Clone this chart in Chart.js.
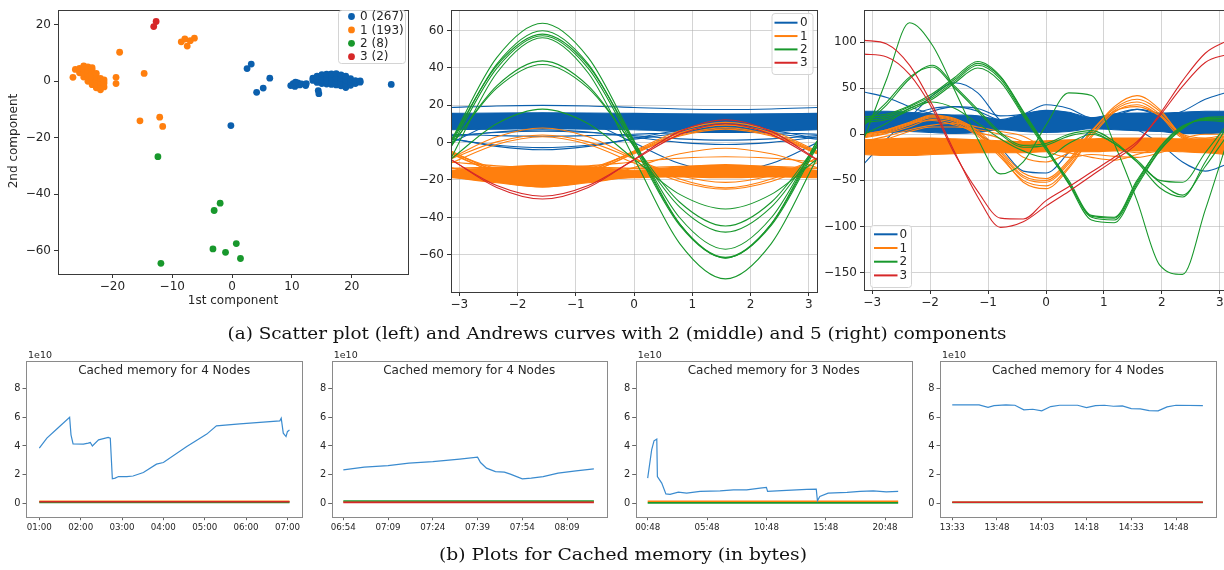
<!DOCTYPE html>
<html lang="en">
<head>
<meta charset="UTF-8" />
<title>Scatter, Andrews curves and cached memory</title>
<script src="https://cdn.jsdelivr.net/npm/chart.js"></script>
<style>
  body { margin: 0; width: 1224px; height: 570px; overflow: hidden; background: #fff; position: relative; }
  canvas { position: absolute; }
</style>
</head>
<body>
<canvas id="cap"></canvas>
<canvas id="scatter"></canvas>
<canvas id="andrews2"></canvas>
<canvas id="andrews5"></canvas>
<canvas id="mem1"></canvas>
<canvas id="mem2"></canvas>
<canvas id="mem3"></canvas>
<canvas id="mem4"></canvas>

<script>
// ---------- data ----------
const classNames = ['0', '1', '2', '3'];
const classCounts = [267, 193, 8, 2];

// scatter (1st component, 2nd component)
const scBlue = [[9.8,-1.5],[10.2,-0.8],[10.5,-1.8],[11.0,-0.6],[11.3,-1.3],[11.6,-0.9],[10.6,-0.3],[12.3,-1.5],[12.4,-0.8],
  [13.5,0.3],[13.5,1.1],[14.2,-0.4],[14.2,0.8],[14.2,1.8],[15.0,-0.8],[15.0,0.4],[15.0,1.5],[15.0,2.4],
  [15.8,-1.0],[15.8,0.2],[15.8,1.3],[15.8,2.5],[16.6,-1.1],[16.6,0.1],[16.6,1.3],[16.6,2.6],
  [17.4,-1.3],[17.4,0.0],[17.4,1.2],[17.4,2.7],[18.2,-1.6],[18.2,-0.3],[18.2,1.0],[18.2,2.3],
  [19.0,-2.2],[19.0,-1.0],[19.0,0.4],[19.0,1.8],[19.8,-1.4],[19.8,-0.3],[19.8,0.9],[20.6,-0.8],[20.6,0.2],
  [21.4,-0.3],[21.4,0.1],[14.4,-3.3],[14.5,-4.4],[26.6,-1.1],[2.5,4.5],[3.2,6.1],[6.3,1.1],[4.1,-3.9],[5.2,-2.4],[-0.2,-15.7]];
const scOrange = [[-26.2,4.2],[-25.5,3.0],[-25.5,4.6],[-24.8,1.5],[-24.8,2.8],[-24.8,4.2],[-24.8,5.5],
  [-24.1,0.0],[-24.1,1.3],[-24.1,2.6],[-24.1,3.9],[-24.1,5.1],[-23.4,-1.2],[-23.4,0.1],[-23.4,1.4],[-23.4,2.7],[-23.4,4.0],[-23.4,4.8],
  [-22.7,-2.3],[-22.7,-1.0],[-22.7,0.3],[-22.7,1.6],[-22.7,2.8],[-22.0,-3.0],[-22.0,-1.6],[-22.0,-0.3],[-22.0,1.0],
  [-21.4,-2.0],[-21.4,-0.6],[-21.4,0.5],[-26.6,1.4],[-19.4,1.4],[-19.4,-0.8],[-18.8,10.3],[-14.7,2.8],
  [-15.4,-14.0],[-12.1,-12.7],[-11.6,-16.0],[-8.5,14.0],[-7.9,15.0],[-7.5,12.5],[-7.0,14.4],[-6.3,15.3]];
const scGreen = [[-12.4,-26.7],[-3.0,-45.8],[-2.0,-43.2],[-3.2,-59.4],[-1.1,-60.6],[0.7,-57.5],[1.4,-62.8],[-11.9,-64.5]];
const scRed = [[-13.1,19.4],[-12.7,21.2]];

// Andrews curves, 2 components: values read at t = -pi .. pi, step pi/4
const t9 = [-3.1416, -2.3562, -1.5708, -0.7854, 0, 0.7854, 1.5708, 2.3562, 3.1416];
const a2BlueTop = [15.6, 15.8, 15.9, 15.8, 15.6, 15.4, 15.3, 15.4, 15.6];
const a2BlueBottom = [6.9, 7.1, 7.4, 7.2, 6.9, 6.0, 5.4, 6.0, 6.9];
const a2Blue = [
  [18.8, 19.6, 19.9, 19.6, 18.8, 18.0, 17.7, 18.0, 18.8],
  [1.8, -1.4, -2.7, -1.4, 1.8, 5.0, 6.3, 5.0, 1.8],
  [2.3, -2.0, -3.8, -2.0, 2.3, 6.6, 8.4, 6.6, 2.3],
  [4.5, 3.7, 3.4, 3.7, 4.5, 5.3, 5.6, 5.3, 4.5],
  [2.9, 5.7, 6.8, 5.7, 2.9, 0.1, -1.0, 0.1, 2.9],
  [3.7, 5.4, 6.1, 5.4, 3.7, 2.0, 1.3, 2.0, 3.7],
  [-0.1, 11.0, 15.6, 11.0, -0.1, -11.2, -15.8, -11.2, -0.1],
  [8.7, 9.8, 10.2, 9.8, 8.7, 7.6, 7.2, 7.6, 8.7]];
const a2OrangeTop = [-14.8, -13.3, -12.2, -12.8, -14.8, -13.0, -11.8, -13.0, -14.8];
const a2OrangeBottom = [-18.5, -21.5, -23.8, -21.5, -18.5, -18.4, -18.8, -18.4, -18.5];
const a2Orange = [
  [-18.8, -19.8, -20.2, -19.8, -18.8, -17.8, -17.4, -17.8, -18.8],
  [-13.7, -14.7, -15.1, -14.7, -13.7, -12.7, -12.3, -12.7, -13.7],
  [-13.7, -13.1, -12.9, -13.1, -13.7, -14.3, -14.5, -14.3, -13.7],
  [-13.3, -20.6, -23.6, -20.6, -13.3, -6.0, -3.0, -6.0, -13.3],
  [-10.4, -12.4, -13.2, -12.4, -10.4, -8.4, -7.6, -8.4, -10.4],
  [-10.9, -1.0, 3.1, -1.0, -10.9, -20.8, -24.9, -20.8, -10.9],
  [-8.6, 0.4, 4.1, 0.4, -8.6, -17.6, -21.3, -17.6, -8.6],
  [-8.2, 3.1, 7.8, 3.1, -8.2, -19.5, -24.2, -19.5, -8.2],
  [-6.0, -15.9, -20.0, -15.9, -6.0, 3.9, 8.0, 3.9, -6.0],
  [-5.6, -16.2, -20.6, -16.2, -5.6, 5.0, 9.4, 5.0, -5.6],
  [-5.3, -14.1, -17.8, -14.1, -5.3, 3.5, 7.2, 3.5, -5.3],
  [-4.9, -15.1, -19.3, -15.1, -4.9, 5.3, 9.5, 5.3, -4.9],
  [-4.5, -15.3, -19.8, -15.3, -4.5, 6.3, 10.8, 6.3, -4.5]];
const a2Green = [
  [-8.8, 10.1, 17.9, 10.1, -8.8, -27.7, -35.5, -27.7, -8.8],
  [-2.1, 30.3, 43.7, 30.3, -2.1, -34.5, -47.9, -34.5, -2.1],
  [-1.4, 29.1, 41.8, 29.1, -1.4, -31.9, -44.6, -31.9, -1.4],
  [-2.3, 39.7, 57.1, 39.7, -2.3, -44.3, -61.7, -44.3, -2.3],
  [-0.8, 42.0, 59.8, 42.0, -0.8, -43.6, -61.4, -43.6, -0.8],
  [0.5, 41.2, 58.0, 41.2, 0.5, -40.2, -57.0, -40.2, 0.5],
  [1.0, 45.4, 63.8, 45.4, 1.0, -43.4, -61.8, -43.4, 1.0],
  [-8.4, 37.2, 56.1, 37.2, -8.4, -54.0, -72.9, -54.0, -8.4]];
const a2Red = [
  [-9.3, -23.0, -28.7, -23.0, -9.3, 4.4, 10.1, 4.4, -9.3],
  [-9.0, -24.0, -30.2, -24.0, -9.0, 6.0, 12.2, 6.0, -9.0]];

// Andrews curves, 5 components: values read at t = -pi .. pi, step pi/8
const t17 = [-3.1416, -2.7489, -2.3562, -1.9635, -1.5708, -1.1781, -0.7854, -0.3927, 0,
  0.3927, 0.7854, 1.1781, 1.5708, 1.9635, 2.3562, 2.7489, 3.1416];
const a5BlueTop = [25, 25, 24, 22, 21, 20, 16, 22, 26, 24, 18, 22, 23, 23, 24, 25, 25];
const a5BlueBottom = [2, 2, 3, 2, 1, 2, 5, 3, 2, 3, 6, 5, 4, 3, 1, 1, 2];
const a5Blue = [
  [46, 40, 30, 22, 15, 10, 8, 10, 12, 12, 12, 14, 15, 18, 25, 38, 46],
  [-32, -5, 18, 42, 56, 45, 15, 5, 5, 8, 10, 10, 5, -10, -30, -40, -32],
  [10, 10, 12, 15, 10, 0, -15, -40, -42, -20, 5, 15, 18, 12, 5, 5, 10],
  [12, 12, 15, 25, 30, 28, 20, 22, 32, 28, 18, 20, 27, 20, 12, 10, 12],
  [5, 8, 20, 28, 30, 25, 15, 12, 20, 22, 15, 22, 27, 22, 10, 5, 5]];
const a5OrangeTop = [-6, -5, -4, -4, -5, -6, -7, -8, -7, -6, -5, -4, -4, -4, -5, -5, -6];
const a5OrangeBottom = [-22, -23, -23, -22, -21, -20, -20, -20, -19, -19, -19, -18, -18, -18, -19, -20, -22];
const a5Orange = [
  [-3, 2, 10, 18, 14, 0, -22, -47, -52, -32, 2, 30, 42, 27, -2, -8, -3],
  [-1, 4, 12, 20, 16, 2, -20, -45, -50, -30, 3, 28, 38, 25, -1, -6, -1],
  [-4, 1, 8, 16, 12, -2, -25, -50, -56, -35, -1, 26, 35, 22, -3, -9, -4],
  [-2, 3, 11, 19, 15, 1, -23, -52, -59, -37, -3, 24, 32, 20, -4, -7, -2],
  [0, 5, 13, 21, 17, 4, -18, -42, -48, -28, 4, 25, 30, 20, 0, -4, 0],
  [-10, -5, 3, 8, 8, 5, 0, -8, -18, -25, -22, -24, -25, -20, -12, -8, -10],
  [-8, -2, 5, 10, 12, 8, 3, -2, -15, -20, -25, -28, -22, -15, -8, -5, -8],
  [0, 5, 12, 15, 10, 2, -5, -25, -30, -20, -10, -15, -20, -18, -5, 0, 0]];
const a5Green = [
  [15, 18, 28, 40, 58, 75, 60, 22, -15, -50, -88, -90, -50, -15, 8, 16, 15],
  [17, 20, 30, 42, 60, 77, 62, 24, -14, -52, -90, -93, -54, -17, 7, 17, 17],
  [13, 16, 26, 38, 56, 72, 57, 20, -17, -53, -89, -91, -52, -14, 9, 15, 13],
  [19, 22, 31, 44, 62, 79, 63, 25, -13, -54, -93, -96, -56, -18, 6, 18, 19],
  [12, 35, 62, 73, 50, 25, 0, -14, -12, -2, 2, -10, -28, -50, -52, -20, 12],
  [10, 32, 60, 75, 52, 27, 2, -12, -10, 0, 4, -8, -30, -58, -68, -30, 10],
  [0, 12, 28, 35, 28, 12, -5, -18, -25, -10, 0, -10, -30, -52, -66, -35, 0],
  [-5, 60, 121, 97, 47, -5, -43, -30, 10, 45, 42, -10, -72, -142, -152, -82, -5]];
const a5Red = [
  [102, 98, 75, 32, -20, -68, -101, -95, -78, -62, -45, -28, -10, 22, 58, 88, 102],
  [87, 84, 65, 28, -22, -62, -91, -92, -72, -57, -41, -25, -8, 20, 52, 78, 87]];

// cached memory (1e10 bytes); x = minutes after the first tick
const memTitles = ['Cached memory for 4 Nodes', 'Cached memory for 4 Nodes', 'Cached memory for 3 Nodes', 'Cached memory for 4 Nodes'];
const mem1Min = [0, 11, 25, 44, 46, 49, 64, 71, 74, 77, 86, 100, 103, 106, 110, 115, 127, 136, 151, 170, 180, 214, 243, 257, 291, 349, 351, 354, 358, 360, 363];
const mem1Val = [3.85, 4.55, 5.17, 6.01, 4.78, 4.15, 4.13, 4.20, 4.24, 4.00, 4.43, 4.60, 4.55, 1.70, 1.75, 1.86, 1.86, 1.90, 2.14, 2.73, 2.84, 3.96, 4.83, 5.41, 5.55, 5.76, 5.94, 4.90, 4.66, 5.00, 5.13];
const mem1Flat = [0.12, 0.05, 0.10];
const mem1Ticks = ['01:00', '02:00', '03:00', '04:00', '05:00', '06:00', '07:00'];
const mem1TickMin = [0, 60, 120, 180, 240, 300, 360];

const mem2Min = [0, 7, 15, 22, 30, 39, 45, 46, 48, 51, 54, 56, 60, 63, 67, 72, 78, 84];
const mem2Val = [2.33, 2.52, 2.63, 2.80, 2.91, 3.08, 3.22, 2.84, 2.45, 2.21, 2.17, 2.03, 1.70, 1.75, 1.86, 2.10, 2.26, 2.40];
const mem2Flat = [0.08, 0.15, 0.05];
const mem2Ticks = ['06:54', '07:09', '07:24', '07:39', '07:54', '08:09'];
const mem2TickMin = [0, 15, 30, 45, 60, 75];

const mem3Min = [0, 20, 32, 46, 49, 71, 92, 113, 155, 197, 265, 366, 433, 500, 568, 600, 606, 702, 804, 852, 858, 870, 912, 1008, 1074, 1140, 1206, 1266];
const mem3Val = [1.75, 3.73, 4.36, 4.48, 1.86, 1.40, 0.65, 0.61, 0.77, 0.70, 0.82, 0.86, 0.93, 0.93, 1.05, 1.10, 0.82, 0.89, 0.96, 0.98, 0.16, 0.47, 0.70, 0.75, 0.82, 0.86, 0.79, 0.82];
const mem3Flat = [0.12, 0.02];
const mem3Ticks = ['00:48', '05:48', '10:48', '15:48', '20:48'];
const mem3TickMin = [0, 300, 600, 900, 1200];

const mem4Min = [0, 9, 12, 14, 18, 21, 24, 27, 30, 33, 36, 42, 45, 48, 51, 54, 57, 60, 63, 66, 69, 72, 75, 84];
const mem4Val = [6.88, 6.88, 6.71, 6.83, 6.88, 6.85, 6.53, 6.57, 6.46, 6.76, 6.85, 6.85, 6.69, 6.83, 6.85, 6.78, 6.81, 6.62, 6.60, 6.48, 6.46, 6.74, 6.85, 6.83];
const mem4Flat = [0.06, 0.04, 0.06];
const mem4Ticks = ['13:33', '13:48', '14:03', '14:18', '14:33', '14:48'];
const mem4TickMin = [0, 15, 30, 45, 60, 75];

// ---------- style ----------
const C = ['#0b5fad', '#ff7f0e', '#18982c', '#d62728'];
const MEM_BLUE = '#3a8bcf';
const SANS = '"DejaVu Sans", sans-serif';
const minus = v => (v < 0 ? '\u2212' + Math.abs(v) : String(v));

// frame, free texts and in-axes legend
const decor = {
  id: 'decor',
  afterDraw(chart, args, o) {
    const ctx = chart.ctx, a = chart.chartArea;
    ctx.save();
    if (o.frame) {
      ctx.strokeStyle = o.frame;
      ctx.lineWidth = 1;
      ctx.strokeRect(Math.round(a.left) + 0.5, Math.round(a.top) + 0.5,
        Math.round(a.right - a.left), Math.round(a.bottom - a.top));
    }
    for (const t of o.texts || []) {
      ctx.save();
      ctx.font = t.font;
      ctx.fillStyle = t.color || '#262626';
      ctx.textAlign = t.align || 'center';
      ctx.textBaseline = 'middle';
      const x = t.x === 'mid' ? (a.left + a.right) / 2 : t.x;
      ctx.translate(x, t.y);
      if (t.rot) ctx.rotate(t.rot);
      ctx.fillText(t.text, 0, 0);
      ctx.restore();
    }
    const lg = o.legend;
    if (lg) {
      const [bx, by, bw, bh] = lg.box;
      ctx.fillStyle = 'rgba(255,255,255,0.85)';
      ctx.strokeStyle = '#d4d4d4';
      ctx.lineWidth = 1;
      ctx.beginPath();
      ctx.roundRect(bx + 0.5, by + 0.5, bw, bh, 3);
      ctx.fill();
      ctx.stroke();
      ctx.font = lg.font;
      ctx.textAlign = 'left';
      ctx.textBaseline = 'middle';
      lg.items.forEach(([label, color], i) => {
        const y = lg.y0 + i * lg.dy;
        if (lg.kind === 'dot') {
          ctx.fillStyle = color;
          ctx.beginPath();
          ctx.arc(lg.markX, y, 3.4, 0, 2 * Math.PI);
          ctx.fill();
        } else {
          ctx.strokeStyle = color;
          ctx.lineWidth = 2;
          ctx.beginPath();
          ctx.moveTo(lg.markX, y);
          ctx.lineTo(lg.markX2, y);
          ctx.stroke();
        }
        ctx.fillStyle = '#262626';
        ctx.fillText(label, lg.textX, y + 0.5);
      });
    }
    ctx.restore();
  }
};
Chart.register(decor);

function place(id, left, top, w, h) {
  const c = document.getElementById(id);
  c.width = w; c.height = h;
  c.style.left = left + 'px'; c.style.top = top + 'px';
  c.style.width = w + 'px'; c.style.height = h + 'px';
  return c;
}

// linear axis with fixed tick list and a fixed thickness
function axis(horizontal, min, max, tickVals, labelFn, thick, s) {
  return {
    type: 'linear', min, max,
    afterBuildTicks: sc => { sc.ticks = tickVals.map(v => ({ value: v })); },
    afterFit: sc => { if (horizontal) sc.height = thick; else sc.width = thick; },
    ticks: {
      callback: (v, i) => labelFn(v, i), autoSkip: false, maxRotation: 0,
      font: { family: SANS, size: s.font }, color: '#262626', padding: s.pad
    },
    grid: {
      display: true, drawOnChartArea: !!s.grid, color: s.grid || 'transparent',
      drawTicks: true, tickLength: s.tick, tickColor: s.tickColor || '#333', lineWidth: 1
    },
    border: { display: false }
  };
}

const base = {
  responsive: false, animation: false, events: [], devicePixelRatio: 1,
};

// ---------- scatter ----------
place('scatter', 0, 0, 420, 312);
const scSets = [scBlue, scOrange, scGreen, scRed].map((pts, k) => ({
  data: pts.map(([x, y]) => ({ x, y })),
  backgroundColor: C[k], borderWidth: 0, pointRadius: 3.4, order: 3 - k
}));
new Chart(document.getElementById('scatter'), {
  type: 'scatter',
  data: { datasets: scSets },
  options: {
    ...base,
    layout: { padding: { left: 0, top: 9, right: 12, bottom: 0 } },
    scales: {
      x: axis(true, -29.1, 29.4, [-20, -10, 0, 10, 20], minus, 38, { font: 12, pad: 2, tick: 4 }),
      y: axis(false, -68.3, 25.2, [-60, -40, -20, 0, 20], minus, 58, { font: 12, pad: 3, tick: 4 })
    },
    plugins: {
      legend: { display: false }, tooltip: { enabled: false },
      decor: {
        frame: '#3a3a3a',
        texts: [
          { text: '1st component', x: 'mid', y: 301, font: `12px ${SANS}` },
          { text: '2nd component', x: 14, y: 141, font: `12px ${SANS}`, rot: -Math.PI / 2 }
        ],
        legend: {
          box: [338, 10, 67, 53], kind: 'dot', font: `12px ${SANS}`, markX: 351.5, textX: 360,
          y0: 16.5, dy: 13.4,
          items: classNames.map((n, k) => [`${n} (${classCounts[k]})`, C[k]])
        }
      }
    }
  }
});

// ---------- Andrews curves ----------
function andrewsSets(t, bands, lines) {
  const sets = [];
  const line = (vals, color, order) => ({
    data: vals.map((v, i) => ({ x: t[i], y: v })),
    borderColor: color, backgroundColor: color, borderWidth: 1.1, pointRadius: 0,
    cubicInterpolationMode: 'monotone', fill: false, order
  });
  // bands of many overlapping curves: filled between upper and lower edge
  bands.forEach(([top, bottom, color, order]) => {
    sets.push(line(top, color, order));
    const low = line(bottom, color, order);
    low.fill = sets.length - 1;
    sets.push(low);
  });
  lines.forEach(([group, color, order]) => group.forEach(vals => sets.push(line(vals, color, order))));
  return sets;
}

const gridGray = 'rgba(176,176,176,0.55)';
const lineLegend = (box, markX, markX2, textX, y0, dy) => ({
  box, kind: 'line', font: `12px ${SANS}`, markX, markX2, textX, y0, dy,
  items: classNames.map((n, k) => [n, C[k]])
});

place('andrews2', 400, 0, 420, 312);
new Chart(document.getElementById('andrews2'), {
  type: 'line',
  data: {
    datasets: andrewsSets(t9,
      [[a2BlueTop, a2BlueBottom, C[0], 4], [a2OrangeTop, a2OrangeBottom, C[1], 3]],
      [[a2Blue, C[0], 4], [a2Orange, C[1], 3], [a2Green, C[2], 1], [a2Red, C[3], 0]])
  },
  options: {
    ...base,
    layout: { padding: { left: 0, top: 8, right: 3, bottom: 0 } },
    scales: {
      x: axis(true, -Math.PI, Math.PI, [-3, -2, -1, 0, 1, 2, 3], minus, 20, { font: 12, pad: 2, tick: 4, grid: gridGray }),
      y: axis(false, -79.9, 70.8, [-60, -40, -20, 0, 20, 40, 60], minus, 51, { font: 12, pad: 3, tick: 4, grid: gridGray })
    },
    plugins: {
      legend: { display: false }, tooltip: { enabled: false },
      decor: { frame: '#3a3a3a', legend: lineLegend([371.5, 13, 41, 61], 374.5, 397.5, 400, 22.7, 13.35) }
    }
  }
});

place('andrews5', 812, 0, 420, 312);
new Chart(document.getElementById('andrews5'), {
  type: 'line',
  data: {
    datasets: andrewsSets(t17,
      [[a5BlueTop, a5BlueBottom, C[0], 4], [a5OrangeTop, a5OrangeBottom, C[1], 3]],
      [[a5Blue, C[0], 4], [a5Orange, C[1], 3], [a5Green, C[2], 1], [a5Red, C[3], 0]])
  },
  options: {
    ...base,
    layout: { padding: { left: 0, top: 9, right: 4, bottom: 0 } },
    scales: {
      x: axis(true, -Math.PI, Math.PI, [-3, -2, -1, 0, 1, 2, 3], minus, 22, { font: 12, pad: 2, tick: 4, grid: gridGray }),
      y: axis(false, -169, 134.7, [-150, -100, -50, 0, 50, 100], minus, 52, { font: 12, pad: 3, tick: 4, grid: gridGray })
    },
    plugins: {
      legend: { display: false }, tooltip: { enabled: false },
      decor: { frame: '#3a3a3a', legend: lineLegend([58, 225, 41, 62], 62, 85.5, 87.5, 234.3, 13.7) }
    }
  }
});

// ---------- cached memory ----------
function memChart(id, left, w, yWidth, padRight, title, mins, vals, flat, range, tickMin, tickLab) {
  place(id, left, 340, w, 200);
  const first = mins[0], last = mins[mins.length - 1];
  const flatCols = [C[1], C[2], C[3]];
  const sets = [{
    data: mins.map((m, i) => ({ x: m, y: vals[i] })),
    borderColor: MEM_BLUE, borderWidth: 1.2, pointRadius: 0, tension: 0, order: 0
  }];
  flat.forEach((v, k) => sets.push({
    data: [{ x: first, y: v }, { x: last, y: v }],
    borderColor: flatCols[k], borderWidth: 1.6, pointRadius: 0, order: 3 - k
  }));
  new Chart(document.getElementById(id), {
    type: 'line',
    data: { datasets: sets },
    options: {
      ...base,
      layout: { padding: { left: 0, top: 20.7, right: padRight, bottom: 0 } },
      scales: {
        x: axis(true, range[0], range[1], tickMin, (v, i) => tickLab[i], 23.3, { font: 8.7, pad: 2, tick: 3.5, tickColor: '#666' }),
        y: axis(false, -0.95, 9.97, [0, 2, 4, 6, 8], v => String(v), yWidth, { font: 9.8, pad: 2, tick: 3.5, tickColor: '#666' })
      },
      plugins: {
        legend: { display: false }, tooltip: { enabled: false },
        decor: {
          frame: '#8a8a8a',
          texts: [
            { text: title, x: 'mid', y: 30.5, font: `12px ${SANS}` },
            { text: '1e10', x: yWidth + 2, y: 15.5, font: `9.5px ${SANS}`, align: 'left' }
          ]
        }
      }
    }
  });
}

memChart('mem1', 0, 310, 26, 7.7, memTitles[0], mem1Min, mem1Val, mem1Flat, [-19.3, 381.6], mem1TickMin, mem1Ticks);
memChart('mem2', 310, 305, 21.7, 8.3, memTitles[1], mem2Min, mem2Val, mem2Flat, [-3.9, 88.3], mem2TickMin, mem2Ticks);
memChart('mem3', 615, 305, 20.7, 8.3, memTitles[2], mem3Min, mem3Val, mem3Flat, [-60.6, 1334.4], mem3TickMin, mem3Ticks);
memChart('mem4', 920, 304, 20, 8, memTitles[3], mem4Min, mem4Val, mem4Flat, [-4.1, 88.4], mem4TickMin, mem4Ticks);

// ---------- captions ----------
const capCanvas = place('cap', 0, 0, 1224, 570);
const cx = capCanvas.getContext('2d');
function caption(text, centerX, baseline, width) {
  cx.font = '16px "DejaVu Serif", serif';
  const w = cx.measureText(text).width;
  cx.save();
  cx.translate(centerX, baseline);
  cx.scale(width / w, 1);
  cx.textAlign = 'center';
  cx.textBaseline = 'alphabetic';
  cx.fillStyle = '#111';
  cx.fillText(text, 0, 0);
  cx.restore();
}
caption('(a) Scatter plot (left) and Andrews curves with 2 (middle) and 5 (right) components', 617, 338.5, 779);
caption('(b) Plots for Cached memory (in bytes)', 623, 560, 368);
</script>
</body>
</html>
